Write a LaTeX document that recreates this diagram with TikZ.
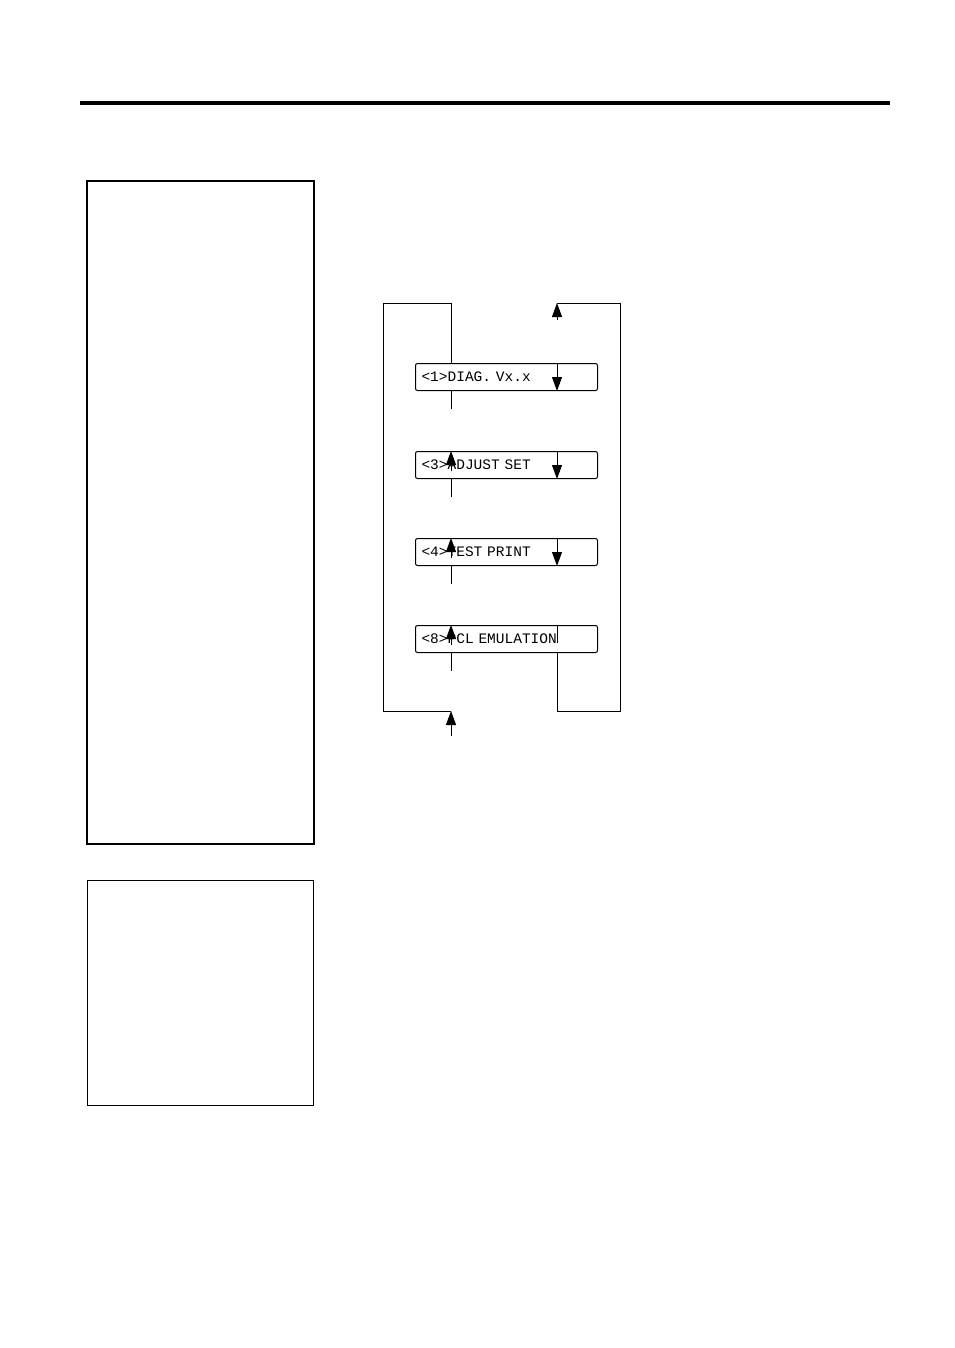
\documentclass[tikz,border=0pt]{standalone}
\usepackage{fontspec}
\setmonofont{Liberation Mono}
\usetikzlibrary{arrows.meta}
\begin{document}
\begin{tikzpicture}[x=1pt,y=-1pt,
  lcd/.style={draw,line width=1pt,rounded corners=2pt,minimum width=182pt,minimum height=27pt,anchor=north west,inner sep=0pt,font=\ttfamily\fontsize{14.5}{16}\selectfont,text width=170pt,align=left},
  ln/.style={line width=1pt},
  ar/.style={line width=1pt,-{Triangle[width=10pt,length=14pt]}}]
\useasboundingbox (0,0) rectangle (954,1348);
\draw[line width=4pt] (80,103) -- (890,103);
\draw[line width=2pt] (87,181) rectangle (314,844);
\draw[line width=1pt] (87,880) rectangle (313,1105);
\node[lcd] (b1) at (415,363) {<1>DIAG.  Vx.x};
\node[lcd] (b2) at (415,451) {<3>ADJUST SET};
\node[lcd] (b3) at (415,538) {<4>TEST PRINT};
\node[lcd] (b4) at (415,625) {<8>PCL EMULATION};
% left loop
\coordinate (lt) at (451,303);
\coordinate (lb) at (451,711);
\draw[ln] (b1.north west -| lt) -- (lt) -- (383,303) -- (383,711) -- (lb);
\foreach \a/\b in {b1/b2,b2/b3,b3/b4}{
  \draw[ln] (\a.south west -| lt) -- ++(0,18);
  \draw[ar] ([yshift=-20pt]\b.north west -| lt) -- (\b.north west -| lt);
}
\draw[ln] (b4.south west -| lt) -- ++(0,18);
\draw[ar] ([yshift=-25pt]lb) -- (lb);
% right loop
\coordinate (rt) at (557,303);
\coordinate (rb) at (557,711);
\draw[ln] (b4.south west -| rb) -- (rb) -- (620,711) -- (620,303) -- (rt);
\draw[ar] (557,320) -- (rt);
\draw[ln] ([yshift=-18pt]b1.north west -| rt) -- (b1.north west -| rt);
\foreach \a/\b in {b1/b2,b2/b3,b3/b4}{
  \draw[ar] ([yshift=20pt]\a.south west -| rt) -- (\a.south west -| rt);
  \draw[ln] ([yshift=-18pt]\b.north west -| rt) -- (\b.north west -| rt);
}
\end{tikzpicture}
\end{document}
